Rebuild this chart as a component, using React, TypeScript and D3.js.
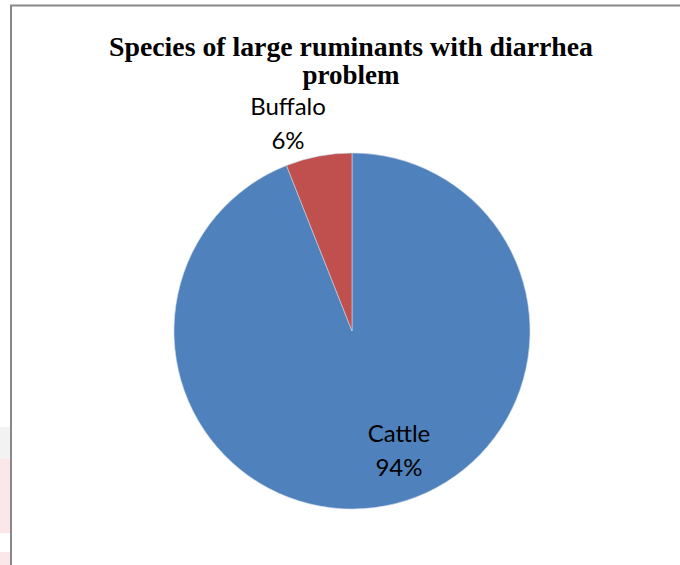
import React from "react";
import * as d3 from "d3";

const categories = ["Cattle", "Buffalo"];
const values = [94, 6];
const colors = ["#4f81bd", "#c0504d"];
const titleLines = ["Species of large ruminants with diarrhea", "problem"];

const W = 680;
const H = 565;
const cx = 352;
const cy = 331;
const R = 178;

// label anchor positions (relative to the pie centre), one per category
const labelOffsets: [number, number][] = [
  [47, 111],
  [-64, -216],
];

export default function App() {
  const pie = d3
    .pie<number>()
    .sort(null)
    .value((d) => d)
    .startAngle(0)
    .endAngle(2 * Math.PI);
  const arcs = pie(values);
  const arcGen = d3.arc<d3.PieArcDatum<number>>().innerRadius(0).outerRadius(R);
  const total = d3.sum(values);

  return (
    <svg
      width={W}
      height={H}
      style={{ position: "fixed", left: 0, top: 0 }}
      viewBox={`0 0 ${W} ${H}`}
    >
      <rect x={0} y={0} width={W} height={H} fill="#ffffff" />
      {/* bands on the far left edge */}
      <rect x={0} y={427} width={10} height={32} fill="#f2f2f2" />
      <rect x={0} y={459} width={10} height={74} fill="#fbe6e9" />
      <rect x={0} y={552} width={10} height={13} fill="#fbe6e9" />
      {/* chart frame */}
      <path d={`M11,${H} V5.5 H${W}`} fill="none" stroke="#888888" strokeWidth={2} />

      <g fontFamily="'Liberation Serif', 'Times New Roman', serif" fontWeight="bold" fontSize={27} textAnchor="middle" fill="#000">
        <text x={351} y={56} textLength={484} lengthAdjust="spacingAndGlyphs">{titleLines[0]}</text>
        <text x={351} y={84}>{titleLines[1]}</text>
      </g>

      <g transform={`translate(${cx},${cy})`}>
        {arcs.map((a, i) => (
          <path key={categories[i]} d={arcGen(a) || ""} fill={colors[i]} stroke="#c9d6e8" strokeWidth={0.6} />
        ))}
        {arcs.map((a, i) => (
          <text
            key={"l" + categories[i]}
            textAnchor="middle"
            fontFamily="Lato, 'Open Sans', sans-serif"
            fontSize={24}
            fill="#000"
          >
            <tspan x={labelOffsets[i][0]} y={labelOffsets[i][1]}>{categories[i]}</tspan>
            <tspan x={labelOffsets[i][0]} y={labelOffsets[i][1] + 34}>
              {Math.round((a.data / total) * 100)}%
            </tspan>
          </text>
        ))}
      </g>
    </svg>
  );
}
